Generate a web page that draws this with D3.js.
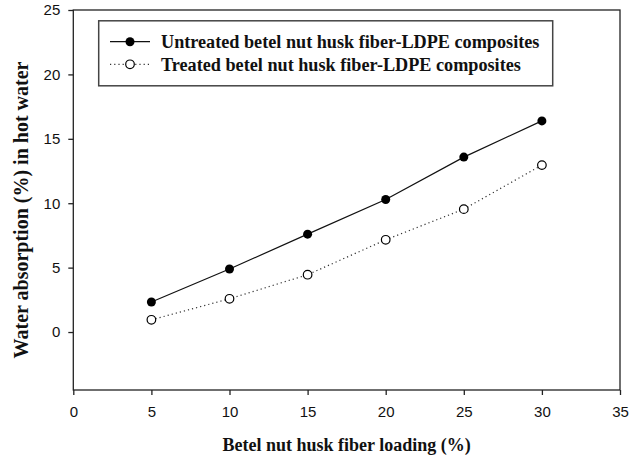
<!DOCTYPE html>
<html><head><meta charset="utf-8">
<script src="https://cdn.jsdelivr.net/npm/d3@7"></script>
<style>body{margin:0;background:#fff}svg{display:block}</style>
</head><body>
<svg id="c" width="630" height="459"></svg>
<script>
const loading = [5, 10, 15, 20, 25, 30];
const untreated = [2.33, 4.89, 7.6, 10.29, 13.58, 16.39];
const treated = [0.95, 2.58, 4.45, 7.16, 9.54, 12.96];
const xTicks = [0, 5, 10, 15, 20, 25, 30, 35];
const yTicks = [0, 5, 10, 15, 20, 25];
const seriesNames = ["Untreated betel nut husk fiber-LDPE composites", "Treated betel nut husk fiber-LDPE composites"];

const svg = d3.select("#c");
const L = 73.3, R = 620, T = 10, B = 390;
const x = d3.scaleLinear().domain([0, 35]).range([L, R]);
const y = d3.scaleLinear().domain([-4.5, 25]).range([B, T]);
const axisColor = "#222";
const serif = "Liberation Serif, Times New Roman, serif";

svg.append("rect").attr("x", L).attr("y", T).attr("width", R - L).attr("height", B - T)
  .attr("fill", "none").attr("stroke", axisColor).attr("stroke-width", 1.3);

const xa = svg.append("g").attr("transform", `translate(0,${B})`)
  .call(d3.axisBottom(x).tickValues(xTicks).tickSize(5).tickPadding(11).tickFormat(d3.format("d")));
const ya = svg.append("g").attr("transform", `translate(${L},0)`)
  .call(d3.axisLeft(y).tickValues(yTicks).tickSize(5).tickPadding(8).tickFormat(d3.format("d")));
[xa, ya].forEach(g => {
  g.select(".domain").remove();
  g.selectAll("line").attr("stroke", axisColor).attr("stroke-width", 1.3);
  g.selectAll("text").attr("font-family", "Liberation Sans, Arial, sans-serif").attr("font-size", 15).attr("fill", "#111");
});

const line = d3.line().x((d, i) => x(loading[i])).y(d => y(d));
svg.append("path").datum(untreated).attr("d", line).attr("fill", "none").attr("stroke", "#111").attr("stroke-width", 1.2);
svg.append("path").datum(treated).attr("d", line).attr("fill", "none").attr("stroke", "#333").attr("stroke-width", 1.2).attr("stroke-dasharray", "1.2,3");

svg.selectAll("circle.u").data(untreated).join("circle").attr("class", "u")
  .attr("cx", (d, i) => x(loading[i])).attr("cy", d => y(d)).attr("r", 4.5).attr("fill", "#000");
svg.selectAll("circle.t").data(treated).join("circle").attr("class", "t")
  .attr("cx", (d, i) => x(loading[i])).attr("cy", d => y(d)).attr("r", 4.3).attr("fill", "#fff").attr("stroke", "#000").attr("stroke-width", 1.2);

svg.append("rect").attr("x", 98.7).attr("y", 20.8).attr("width", 454).attr("height", 65)
  .attr("fill", "#fff").attr("stroke", "#444").attr("stroke-width", 1.5);
const rows = [41.7, 64.3];
const lg = svg.append("g");
seriesNames.forEach((name, i) => {
  const ry = rows[i];
  lg.append("line").attr("x1", 110).attr("x2", 150).attr("y1", ry).attr("y2", ry)
    .attr("stroke", i === 0 ? "#111" : "#333").attr("stroke-width", 1.2)
    .attr("stroke-dasharray", i === 0 ? null : "1.2,3");
  lg.append("circle").attr("cx", 130).attr("cy", ry).attr("r", i === 0 ? 4.5 : 4.3)
    .attr("fill", i === 0 ? "#000" : "#fff").attr("stroke", "#000").attr("stroke-width", i === 0 ? 0 : 1.2);
  lg.append("text").attr("x", 161).attr("y", ry).attr("dy", "0.35em")
    .attr("font-family", serif).attr("font-weight", "bold")
    .attr("font-size", 18.2).attr("fill", "#111").text(name);
});

svg.append("text").attr("x", (L + R) / 2).attr("y", 445).attr("dy", "0.35em").attr("text-anchor", "middle")
  .attr("font-family", serif).attr("font-weight", "bold")
  .attr("font-size", 18).attr("fill", "#111").text("Betel nut husk fiber loading (%)");
svg.append("text").attr("transform", `translate(21,210) rotate(-90)`).attr("dy", "0.35em").attr("text-anchor", "middle")
  .attr("font-family", serif).attr("font-weight", "bold")
  .attr("font-size", 20).attr("fill", "#111").text("Water absorption (%) in hot water");
</script>
</body></html>
